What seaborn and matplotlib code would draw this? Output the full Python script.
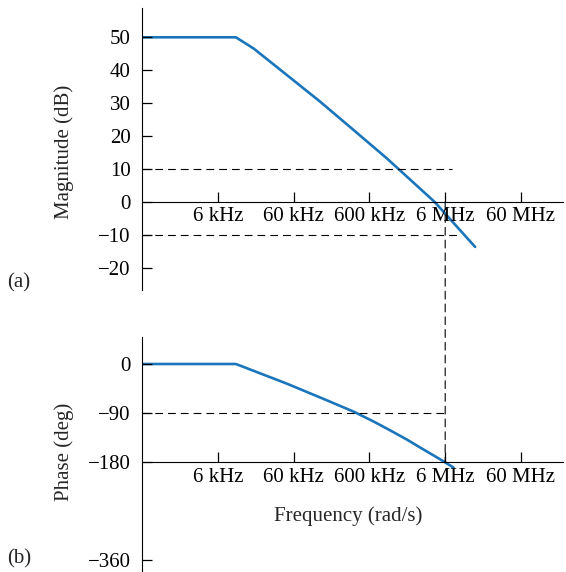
import numpy as np
import pandas as pd
import seaborn as sns
import matplotlib.pyplot as plt
from matplotlib.patches import ConnectionPatch

# valores
freq_mag = [600, 10400, 17800, 49100, 135000, 372000, 1020000, 4340000, 14900000]
mag_db = [50, 50, 46.6, 38.5, 30.4, 21.8, 13.2, 0.0, -13.7]

freq_phase = [600, 10400, 17800, 49100, 135000, 372000, 681000, 1130000,
              1880000, 3100000, 5160000, 7730000]
phase_deg = [0, 0, -12.5, -36.2, -61.6, -87.5, -105.6, -121.9,
             -138.9, -157.0, -175.1, -190.2]

xticks = [6e3, 6e4, 6e5, 6e6, 6e7]
xtick_labels = ["6 kHz", "60 kHz", "600 kHz", "6 MHz", "60 MHz"]
mag_ticks = [-20, -10, 0, 10, 20, 30, 40, 50]
phase_ticks = [0, -90, -180, -360]

mag_guides = [10, -10]
mag_guide_end = [7.4e6, 8.6e6]
phase_guide = -90
cross_freq = 6e6

df_mag = pd.DataFrame({"f": freq_mag, "dB": mag_db})
df_phase = pd.DataFrame({"f": freq_phase, "deg": phase_deg})

sns.set_style("ticks")
plt.rcParams["font.family"] = ["Liberation Serif", "DejaVu Serif"]
plt.rcParams["font.size"] = 15
plt.rcParams.update({
    "xtick.direction": "in", "ytick.direction": "in",
    "xtick.major.size": 7, "ytick.major.size": 7,
    "xtick.major.width": 0.8, "ytick.major.width": 0.8,
    "xtick.color": "black", "ytick.color": "black",
    "xtick.major.pad": 4, "ytick.major.pad": 8,
    "xtick.labelsize": 15, "ytick.labelsize": 15,
    "xtick.bottom": True, "ytick.left": True,
    "axes.axisbelow": False,
})

azul = "#1b75bb"
guion = (0, (7, 4.5))
fig = plt.figure(figsize=(5.66, 5.72), dpi=100)
ax1 = fig.add_axes([0.2509, 0.493, 0.7438, 0.493])
ax2 = fig.add_axes([0.2509, 0.0, 0.7438, 1 - 337 / 572])

sns.lineplot(data=df_mag, x="f", y="dB", ax=ax1, color=azul, lw=1.9, sort=False)
sns.lineplot(data=df_phase, x="f", y="deg", ax=ax2, color=azul, lw=1.9, sort=False)

ax1.set_ylim(-26.8, 58.9)
ax1.set_yticks(mag_ticks)
ax1.spines["bottom"].set_position(("data", 0))
ax2.set_ylim(-382, 49.6)
ax2.set_yticks(phase_ticks)
ax2.spines["bottom"].set_position(("data", -180))

for ax in (ax1, ax2):
    ax.set_xscale("log")
    ax.set_xlim(600, 2.15e8)
    ax.set_xticks(xticks)
    ax.set_xticklabels(xtick_labels)
    ax.minorticks_off()
    ax.spines["top"].set_visible(False)
    ax.spines["right"].set_visible(False)
    for s in ("left", "bottom"):
        ax.spines[s].set_linewidth(0.8)
        ax.spines[s].set_color("black")
    ax.tick_params(which="major", direction="in", length=7, width=0.9,
                   color="black", labelcolor="black", labelsize=15)
    ax.tick_params(axis="y", pad=8)
    ax.tick_params(axis="x", pad=4)
    ax.set_xlabel("")
    ax.set_axisbelow(False)
    for t in ax.xaxis.get_major_ticks() + ax.yaxis.get_major_ticks():
        t.tick1line.set_visible(True)
        t.tick1line.set_clip_on(False)

for lvl, fin in zip(mag_guides, mag_guide_end):
    ax1.hlines(lvl, 600, fin, colors="black", lw=0.8, linestyles=guion)
ax2.hlines(phase_guide, 600, cross_freq, colors="black", lw=0.8, linestyles=guion)

con = ConnectionPatch(xyA=(cross_freq, 0), coordsA=ax1.transData,
                      xyB=(cross_freq, -180), coordsB=ax2.transData,
                      color="black", lw=0.8, linestyle=guion)
fig.add_artist(con)

ax1.set_ylabel("Magnitude (dB)", fontsize=15)
ax1.yaxis.set_label_coords(-0.162, 0.489)
ax2.set_ylabel("Phase (deg)", fontsize=15)
ax2.yaxis.set_label_coords(-0.162, 0.51)
ax2.text(0.489, 0.28, "Frequency (rad/s)", transform=ax2.transAxes,
         ha="center", va="top", fontsize=15)

fig.text(7 / 566, 1 - 283 / 572, "(a)", ha="left", va="center", fontsize=15)
fig.text(7 / 566, 1 - 559 / 572, "(b)", ha="left", va="center", fontsize=15)

fig.savefig("out.png", dpi=100)
